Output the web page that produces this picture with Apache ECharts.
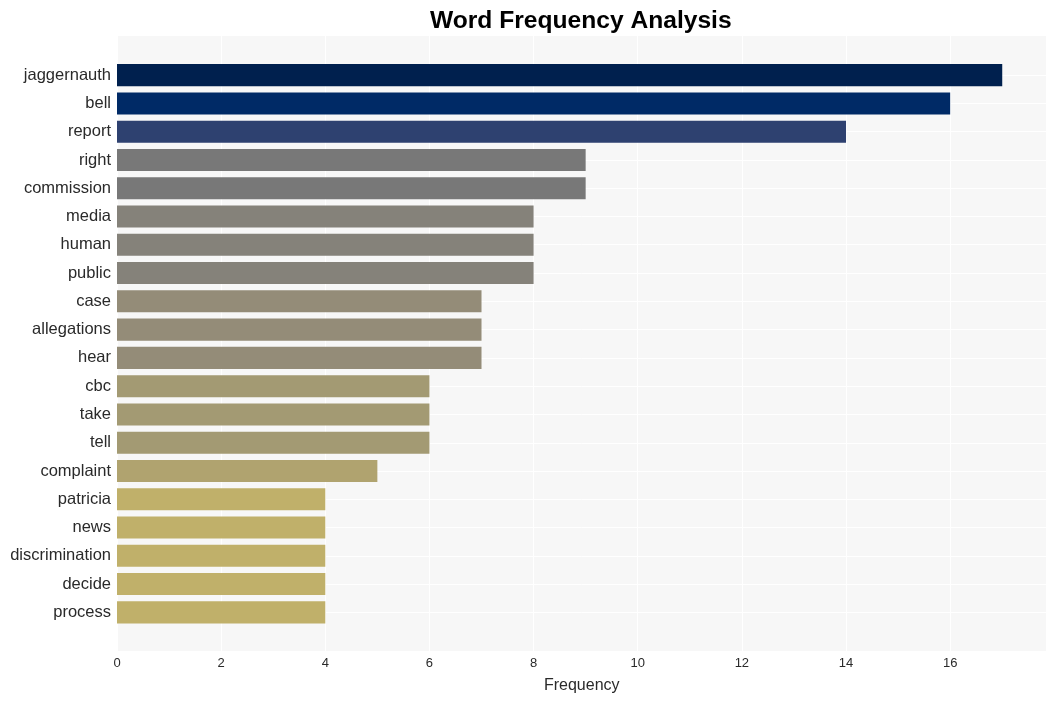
<!DOCTYPE html>
<html>
<head>
<meta charset="utf-8">
<script src="https://cdn.jsdelivr.net/npm/echarts@6/dist/echarts.min.js"></script>
<style>html,body{margin:0;padding:0;background:#fff;}#c{width:1056px;height:701px;}</style>
</head>
<body>
<div id="c"></div>
<script>
const categories = ["jaggernauth","bell","report","right","commission","media","human","public","case","allegations","hear","cbc","take","tell","complaint","patricia","news","discrimination","decide","process"];
const frequencies = [17,16,14,9,9,8,8,8,7,7,7,6,6,6,5,4,4,4,4,4];
const xTicks = [0,2,4,6,8,10,12,14,16];
const barColors = ["#00204e","#002a66","#2e4170","#787878","#787878","#85827a","#85827a","#85827a","#948c78","#948c78","#948c78","#a39a73","#a39a73","#a39a73","#b0a36f","#c0b06a","#c0b06a","#c0b06a","#c0b06a","#c0b06a"];

const FONT = '"Liberation Sans", Arial, Helvetica, sans-serif';
const XMAX = 17.85;
const L = 117, R = 1056 - 1046.5;

const chart = echarts.init(document.getElementById('c'), null, {renderer: 'canvas'});
chart.setOption({
  animation: false,
  backgroundColor: '#ffffff',
  title: {
    text: 'Word Frequency Analysis',
    left: 430, top: 9, padding: 0,
    textStyle: {fontFamily: FONT, fontSize: 24.6, fontWeight: 'bold', color: '#000'}
  },
  grid: [
    {left: L, right: R, top: 36, bottom: 701 - 651, show: true, backgroundColor: '#f7f7f7', borderWidth: 0},
    {left: L, right: R, top: 61, bottom: 701 - 626.5, show: false},
    {left: L, right: R, top: 75, bottom: 701 - 612.5, show: false}
  ],
  xAxis: [
    {gridIndex: 0, type: 'value', min: 0, max: XMAX, interval: 2,
     axisLine: {show: false}, axisTick: {show: false},
     axisLabel: {fontFamily: FONT, fontSize: 13, color: '#2a2a2a', margin: 6,
       formatter: v => (xTicks.indexOf(v) >= 0 ? String(v) : '')},
     splitLine: {show: true, lineStyle: {color: '#ffffff', width: 1}},
     name: 'Frequency', nameLocation: 'middle', nameGap: 27,
     nameTextStyle: {fontFamily: FONT, fontSize: 16, color: '#2a2a2a'}},
    {gridIndex: 1, type: 'value', min: 0, max: XMAX, show: false},
    {gridIndex: 2, type: 'value', min: 0, max: XMAX, show: false}
  ],
  yAxis: [
    {gridIndex: 0, type: 'value', show: false, splitLine: {show: false}},
    {gridIndex: 1, type: 'category', data: categories, inverse: true,
     axisLine: {show: false}, axisTick: {show: false},
     axisLabel: {fontFamily: FONT, fontSize: 16.5, color: '#2a2a2a', margin: 6},
     splitLine: {show: false}},
    {gridIndex: 2, type: 'category', data: categories, inverse: true, boundaryGap: false,
     axisLine: {show: false}, axisTick: {show: false}, axisLabel: {show: false},
     splitLine: {show: true, lineStyle: {color: '#ffffff', width: 1}}}
  ],
  series: [{
    type: 'bar', xAxisIndex: 1, yAxisIndex: 1,
    barWidth: '78%',
    data: frequencies.map((v, i) => ({value: v, itemStyle: {color: barColors[i]}})),
    z: 3
  }]
});
</script>
</body>
</html>
